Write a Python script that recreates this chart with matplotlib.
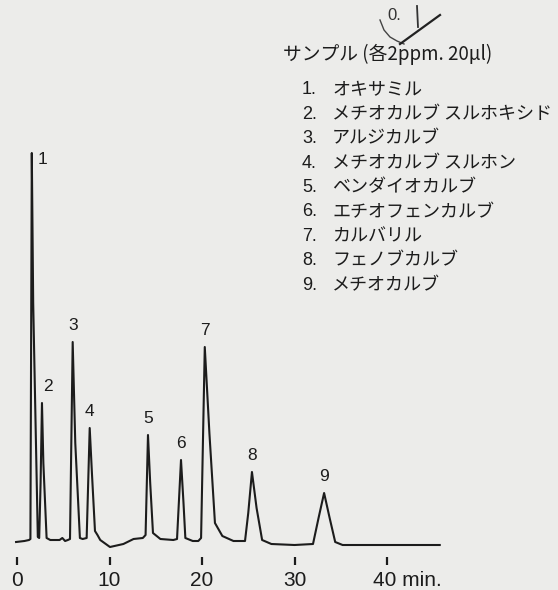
import matplotlib
matplotlib.use('Agg')
import matplotlib.pyplot as plt
from matplotlib import transforms

# chromatogram trace (time in min, detector signal in arbitrary units)
time = [-0.1, 0.8, 1.3, 1.45, 1.6, 1.75, 2.25, 2.4, 2.55, 2.7, 2.85, 3.2, 3.6,
        4.6, 4.9, 5.2, 5.5, 5.73, 6.02, 6.3, 6.8, 7.1, 7.53, 7.86, 8.1, 8.43,
        8.7, 9.0, 10.05, 11.5, 12.6, 13.6, 13.9, 14.16, 14.4, 14.7, 15.5, 16.9,
        17.3, 17.73, 18.0, 18.2, 19.0, 19.6, 19.9, 20.3, 20.8, 21.4, 22.2, 23.4,
        24.65, 25.0, 25.4, 25.9, 26.5, 27.5, 30.0, 32.0, 32.6, 33.2, 33.8, 34.4,
        35.2, 45.7]
signal = [1, 2, 3, 4, 390, 240, 6, 5, 60, 140, 80, 5, 3,
          3, 5, 2, 3, 4, 201, 100, 5, 4, 5, 115, 70, 12,
          8, 3, -4, -1, 4, 5, 8, 108, 60, 10, 4, 3,
          4, 83, 40, 5, 2, 2, 5, 196, 110, 20, 7, 2,
          2, 30, 71, 35, 3, -1, -2, -1, 25, 50, 25, 1,
          -2, -2]

# peaks: retention time, peak top, label
peak_t = [1.6, 2.7, 6.02, 7.86, 14.16, 17.73, 20.3, 25.4, 33.2]
peak_h = [390, 140, 201, 115, 108, 83, 196, 71, 50]
peak_lab = ['1', '2', '3', '4', '5', '6', '7', '8', '9']

xticks = [0, 10, 20, 30, 40]
xtick_labels = ['0', '10', '20', '30', '40 min.']

title = 'サンプル (各2ppm. 20μl)'
compounds = ['オキサミル', 'メチオカルブ スルホキシド', 'アルジカルブ',
             'メチオカルブ スルホン', 'ベンダイオカルブ', 'エチオフェンカルブ',
             'カルバリル', 'フェノブカルブ', 'メチオカルブ']

W, H = 558, 590
bg = '#ececea'
ink = '#1c1c1c'
jp = ['Noto Sans CJK JP', 'DejaVu Sans']

fig = plt.figure(figsize=(W / 100, H / 100), dpi=100, facecolor=bg)
ax = fig.add_axes([0, 0, 1, 1])
ax.set_facecolor(bg)

# axes scaled so that 1 min = 9.25 px and baseline sits at y=543 px
ax.set_xlim(-17 / 9.25, (W - 17) / 9.25)
ax.set_ylim(-(H - 543), 543)

ax.plot(time, signal, color=ink, lw=1.5, solid_joinstyle='round')

for t, h, lab in zip(peak_t, peak_h, peak_lab):
    if lab == '1':
        ax.text(t + 1.15, h - 6, lab, ha='center', va='center', fontsize=12.5,
                family='Liberation Sans', color=ink)
    elif lab == '2':
        ax.text(t + 0.6, h + 9, lab, ha='center', va='bottom', fontsize=12.5,
                family='Liberation Sans', color=ink)
    else:
        ax.text(t, h + 9, lab, ha='center', va='bottom', fontsize=12.5,
                family='Liberation Sans', color=ink)

for s in ax.spines.values():
    s.set_visible(False)
ax.spines['bottom'].set_position(('data', -22))
ax.set_xticks(xticks)
ax.set_xticklabels(xtick_labels)
ax.set_yticks([])
ax.tick_params(axis='x', direction='in', length=6, width=1.6, color=ink,
               pad=4, labelsize=15, labelcolor=ink)
lbls = ax.get_xticklabels()
for lb in lbls:
    lb.set_family('Liberation Sans')
# "40 min." : number sits under its tick
lbls[-1].set_ha('left')
offset = transforms.ScaledTranslation(-14 / 100, 0, fig.dpi_scale_trans)
lbls[-1].set_transform(lbls[-1].get_transform() + offset)

# legend block
def fx(px):
    return px / W

def fy(py):
    return 1 - py / H

fig.text(fx(283), fy(54), title, fontsize=13.5, family=jp, color=ink, va='center')
for i, name in enumerate(compounds):
    y = 90 + i * 24.4
    fig.text(fx(302), fy(y), f'{i + 1}.', fontsize=13, family='Liberation Sans',
             color=ink, va='center')
    fig.text(fx(332), fy(y), name, fontsize=13, family=jp, color=ink, va='center')

# handwritten correction "0.1" with a check mark
fig.text(fx(394), fy(15), '0.', fontsize=12, family='Liberation Sans', color='#333333',
         va='center', ha='center')
fig.add_artist(plt.Line2D([fx(417), fx(418)], [fy(6), fy(27)], color='#333333', lw=1.3))
arc_x = [380, 384, 390, 397, 404]
arc_y = [20, 30, 37, 41, 44]
fig.add_artist(plt.Line2D([fx(v) for v in arc_x], [fy(v) for v in arc_y],
                          color='#444444', lw=1.0))
fig.add_artist(plt.Line2D([fx(400), fx(440)], [fy(44), fy(15)], color='#222222', lw=1.6))

fig.savefig('out.png', dpi=100, facecolor=bg)
